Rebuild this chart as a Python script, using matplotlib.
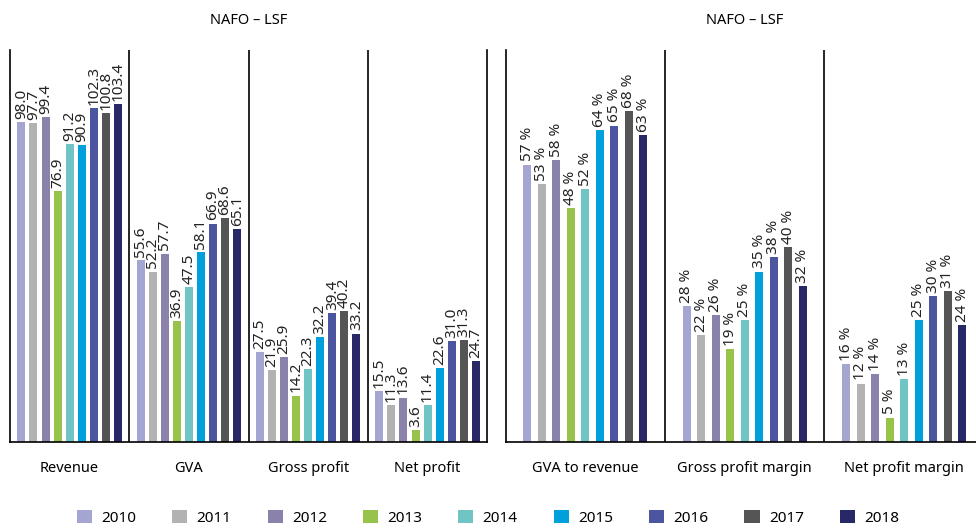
import numpy as np
import matplotlib
matplotlib.use('Agg')
import matplotlib.pyplot as plt

plt.rcParams['font.family'] = ['Noto Sans', 'DejaVu Sans']

years = ['2010', '2011', '2012', '2013', '2014', '2015', '2016', '2017', '2018']
colors = ['#a5a5d2', '#b2b2b2', '#8a82aa', '#97c34b', '#70c4c4',
          '#00a0dc', '#4b55a0', '#555555', '#282869']

# left panel: million EUR
left_cats = ['Revenue', 'GVA', 'Gross profit', 'Net profit']
revenue = [98.0, 97.7, 99.4, 76.9, 91.2, 90.9, 102.3, 100.8, 103.4]
gva = [55.6, 52.2, 57.7, 36.9, 47.5, 58.1, 66.9, 68.6, 65.1]
gross_profit = [27.5, 21.9, 25.9, 14.2, 22.3, 32.2, 39.4, 40.2, 33.2]
net_profit = [15.5, 11.3, 13.6, 3.6, 11.4, 22.6, 31.0, 31.3, 24.7]

# right panel: percentages
right_cats = ['GVA to revenue', 'Gross profit margin', 'Net profit margin']
gva_to_revenue = [57, 53, 58, 48, 52, 64, 65, 68, 63]
gross_margin = [28, 22, 26, 19, 25, 35, 38, 40, 32]
net_margin = [16, 12, 14, 5, 13, 25, 30, 31, 24]

left_data = [revenue, gva, gross_profit, net_profit]
right_data = [gva_to_revenue, gross_margin, net_margin]

fig = plt.figure(figsize=(9.76, 5.28), dpi=100)
ax1 = fig.add_axes([0.0102, 0.163, 0.489, 0.742])
# right panel runs past the figure edge, as in the original
ax2 = fig.add_axes([0.518, 0.163, 0.490, 0.742])


def draw_panel(ax, cats, data, step, width, ymax, fmt):
    n = len(years)
    offsets = (np.arange(n) - (n - 1) / 2) * step
    for gi, vals in enumerate(data):
        for yi, v in enumerate(vals):
            x = gi + offsets[yi]
            ax.bar(x, v, width=width, color=colors[yi],
                   label=years[yi] if gi == 0 else None)
            ax.text(x, v + ymax * 0.008, fmt(v), rotation=90, ha='center',
                    va='bottom', fontsize=11, color='#222222')
    ax.set_xlim(-0.5, len(cats) - 0.5)
    ax.set_ylim(0, ymax)
    for b in range(1, len(cats)):
        ax.axvline(b - 0.5, color='black', lw=1.2)
    ax.spines['top'].set_visible(False)
    for s in ['left', 'right', 'bottom']:
        ax.spines[s].set_linewidth(1.2)
    ax.set_yticks([])
    ax.set_xticks(range(len(cats)))
    ax.set_xticklabels(cats, fontsize=10.5)
    ax.tick_params(axis='x', length=0, pad=14)
    ax.set_title('NAFO – LSF', fontsize=10.5, fontweight='bold', pad=19)


draw_panel(ax1, left_cats, left_data, 0.101, 0.067, 120,
           lambda v: f'{v:.1f}')
draw_panel(ax2, right_cats, right_data, 0.091, 0.05, 80.5,
           lambda v: f'{v} %')
ax2.spines['right'].set_visible(False)

handles, labels = ax1.get_legend_handles_labels()
fig.legend(handles, labels, loc='lower center', bbox_to_anchor=(0.5, -0.022),
           ncol=9, frameon=False, fontsize=11, handlelength=1.0,
           handleheight=1.0, columnspacing=2.35, handletextpad=0.6)

plt.savefig('out.png', dpi=100)
